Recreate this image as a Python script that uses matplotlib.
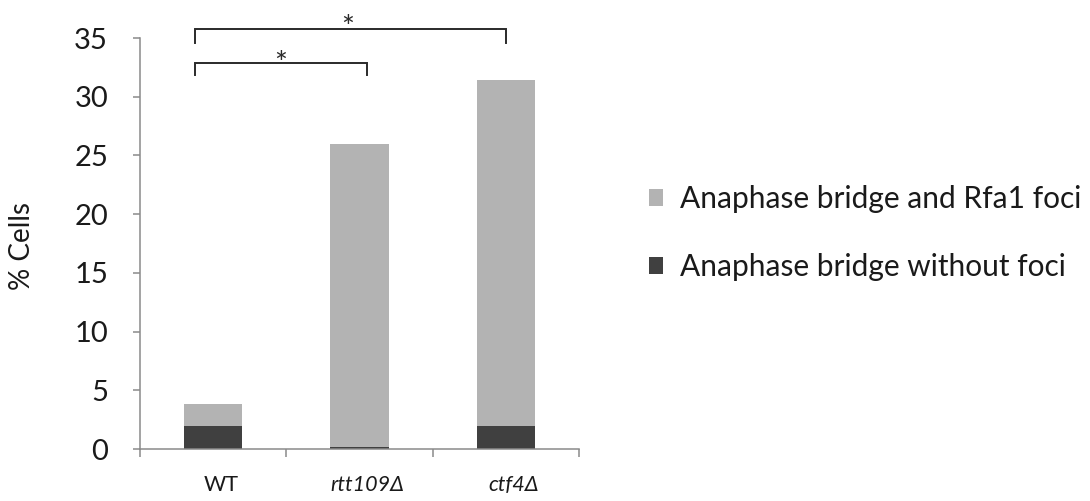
import matplotlib
matplotlib.use("Agg")
import matplotlib.pyplot as plt
from matplotlib.patches import Patch

categories = ["WT", "rtt109Δ", "ctf4Δ"]
without_foci = [2.0, 0.2, 2.0]
with_foci = [1.85, 25.75, 29.4]
series_labels = ["Anaphase bridge and Rfa1 foci", "Anaphase bridge without foci"]
yticks = [0, 5, 10, 15, 20, 25, 30, 35]

light = "#B3B3B3"
dark = "#404040"
axis_col = "#8A8A8A"
text_col = "#1A1A1A"
font = "Lato"

W, H = 1090, 501
fig = plt.figure(figsize=(W / 100, H / 100), dpi=100)
ax = fig.add_axes([140 / W, 1 - 449 / H, 439 / W, 411 / H])

x = list(range(len(categories)))
ax.bar(x, without_foci, width=0.40, color=dark, zorder=2)
ax.bar(x, with_foci, width=0.40, bottom=without_foci, color=light, zorder=2)

ax.set_xlim(-0.5, 2.5)
ax.set_ylim(0, 35)
ax.set_yticks(yticks)
ax.set_yticklabels([str(t) for t in yticks], fontsize=21, family=font, color=text_col)
ax.set_xticks([-0.5, 0.5, 1.5, 2.5])
ax.set_xticklabels([])
ax.tick_params(axis="y", direction="out", length=5, color=axis_col, width=1.1, pad=18)
ax.tick_params(axis="x", direction="out", length=6, color=axis_col, width=1.1)
for i, c in enumerate(categories):
    ax.text(i + 0.055, -3.6, c, ha="center", va="baseline", fontsize=15.5, family=font,
            color=text_col, style=("normal" if i == 0 else "italic"))

for s in ["top", "right"]:
    ax.spines[s].set_visible(False)
for s in ["left", "bottom"]:
    ax.spines[s].set_color(axis_col)
    ax.spines[s].set_linewidth(1.1)

fig.text(22 / W, 1 - 246 / H, "% Cells", rotation=90, ha="center", va="center",
         fontsize=20, family=font, color=text_col)

# significance brackets
bcol = "#2A2A2A"
ax.plot([-0.124, -0.124, 2.0, 2.0], [34.57, 35.77, 35.77, 34.57], color=bcol, lw=1.4,
        clip_on=False, solid_joinstyle="miter")
ax.plot([-0.124, -0.124, 1.048, 1.048], [31.85, 32.87, 32.87, 31.85], color=bcol, lw=1.4,
        clip_on=False, solid_joinstyle="miter")
ax.text(0.921, 35.85, "*", ha="center", va="center", fontsize=22, family=font, color=bcol)
ax.text(0.46, 32.75, "*", ha="center", va="center", fontsize=22, family=font, color=bcol)

handles = [Patch(facecolor=light), Patch(facecolor=dark)]
fig.legend(handles, series_labels, loc="center left", bbox_to_anchor=(649 / W, 1 - 233 / H),
           frameon=False, prop={"family": font, "size": 21.5}, labelcolor=text_col,
           handlelength=0.47, handleheight=0.47, handletextpad=0.57, labelspacing=1.34,
           borderpad=0, borderaxespad=0)

fig.savefig("out.png", dpi=100)
